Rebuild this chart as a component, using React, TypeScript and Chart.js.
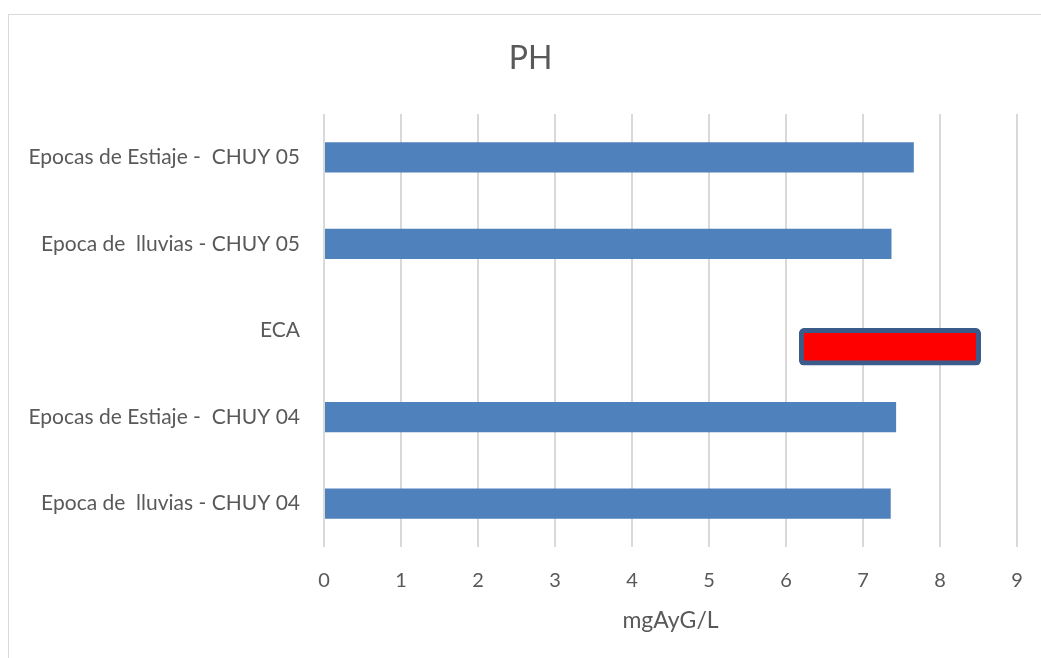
import React, { useEffect, useRef } from "react";
import { Chart, registerables } from "chart.js";

Chart.register(...registerables);

const categories = [
  "Epocas de Estiaje -  CHUY 05",
  "Epoca de  lluvias - CHUY 05",
  "ECA",
  "Epocas de Estiaje -  CHUY 04",
  "Epoca de  lluvias - CHUY 04",
];
const measuredValues: (number | null)[] = [7.66, 7.37, null, 7.43, 7.36];
const ecaRange: ([number, number] | null)[] = [null, null, [6.2, 8.5], null, null];
const emptySlot: (number | null)[] = [null, null, null, null, null];
const chartTitle = "PH";
const xAxisTitle = "mgAyG/L";
const xMin = 0;
const xMax = 9;

const FONT = "Lato, 'Open Sans', sans-serif";
const TEXT = "#595959";

const titlePlugin = {
  id: "frameTitle",
  afterDraw(chart: any) {
    const ctx = chart.ctx;
    ctx.save();
    ctx.fillStyle = TEXT;
    ctx.font = `normal 32px ${FONT}`;
    ctx.textAlign = "center";
    ctx.textBaseline = "middle";
    ctx.fillText(chartTitle, chart.width / 2 + 10, 59);
    ctx.restore();
  },
};

export default function App() {
  const canvasRef = useRef<HTMLCanvasElement | null>(null);

  useEffect(() => {
    if (!canvasRef.current) return;
    const chart = new Chart(canvasRef.current, {
      type: "bar",
      data: {
        labels: categories,
        datasets: [
          {
            label: "Valores",
            data: measuredValues,
            backgroundColor: "#4F81BD",
            grouped: false,
            categoryPercentage: 0.35,
            barPercentage: 1,
          } as any,
          {
            label: "",
            data: emptySlot,
            backgroundColor: "rgba(0,0,0,0)",
            categoryPercentage: 0.753,
            barPercentage: 1,
          } as any,
          {
            label: "ECA",
            data: ecaRange,
            backgroundColor: "#FF0000",
            borderColor: "#3B5C8A",
            borderWidth: 5,
            borderRadius: 5,
            borderSkipped: false,
            inflateAmount: 2.5,
            categoryPercentage: 0.753,
            barPercentage: 1,
          } as any,
        ],
      },
      options: {
        indexAxis: "y",
        animation: false,
        responsive: false,
        maintainAspectRatio: false,
        layout: { padding: { left: 0, right: 24, top: 114, bottom: 0 } },
        plugins: {
          legend: { display: false },
          tooltip: { enabled: false },
          title: { display: false },
        },
        scales: {
          x: {
            min: xMin,
            max: xMax,
            ticks: {
              stepSize: 1,
              color: TEXT,
              padding: 22,
              font: { family: FONT, size: 20 },
            },
            grid: { color: "#D9D9D9", lineWidth: 2, drawTicks: false },
            border: { display: false },
            title: {
              display: true,
              text: xAxisTitle,
              color: TEXT,
              font: { family: FONT, size: 23, lineHeight: 1.2 },
              padding: { top: 0, bottom: 24 },
            },
            afterFit: (scale: any) => {
              scale.height = 111;
              scale.paddingRight = 0;
              scale.paddingLeft = 0;
            },
          },
          y: {
            ticks: {
              color: TEXT,
              padding: 24,
              font: { family: FONT, size: 21 },
            },
            grid: { display: false, drawTicks: false },
            border: { display: false },
            afterFit: (scale: any) => {
              scale.width = 324;
            },
          },
        },
      } as any,
      plugins: [titlePlugin],
    });
    return () => chart.destroy();
  }, []);

  return (
    <div
      style={{
        position: "fixed",
        left: 0,
        top: 0,
        width: 1041,
        height: 658,
        overflow: "hidden",
        background: "#fff",
      }}
    >
      <div
        style={{
          position: "absolute",
          left: 8,
          top: 14,
          width: 1200,
          height: 800,
          borderLeft: "1.5px solid #D9D9D9",
          borderTop: "1.5px solid #D9D9D9",
        }}
      />
      <canvas
        ref={canvasRef}
        width={1041}
        height={658}
        style={{ position: "absolute", left: 0, top: 0, width: 1041, height: 658 }}
      />
    </div>
  );
}
